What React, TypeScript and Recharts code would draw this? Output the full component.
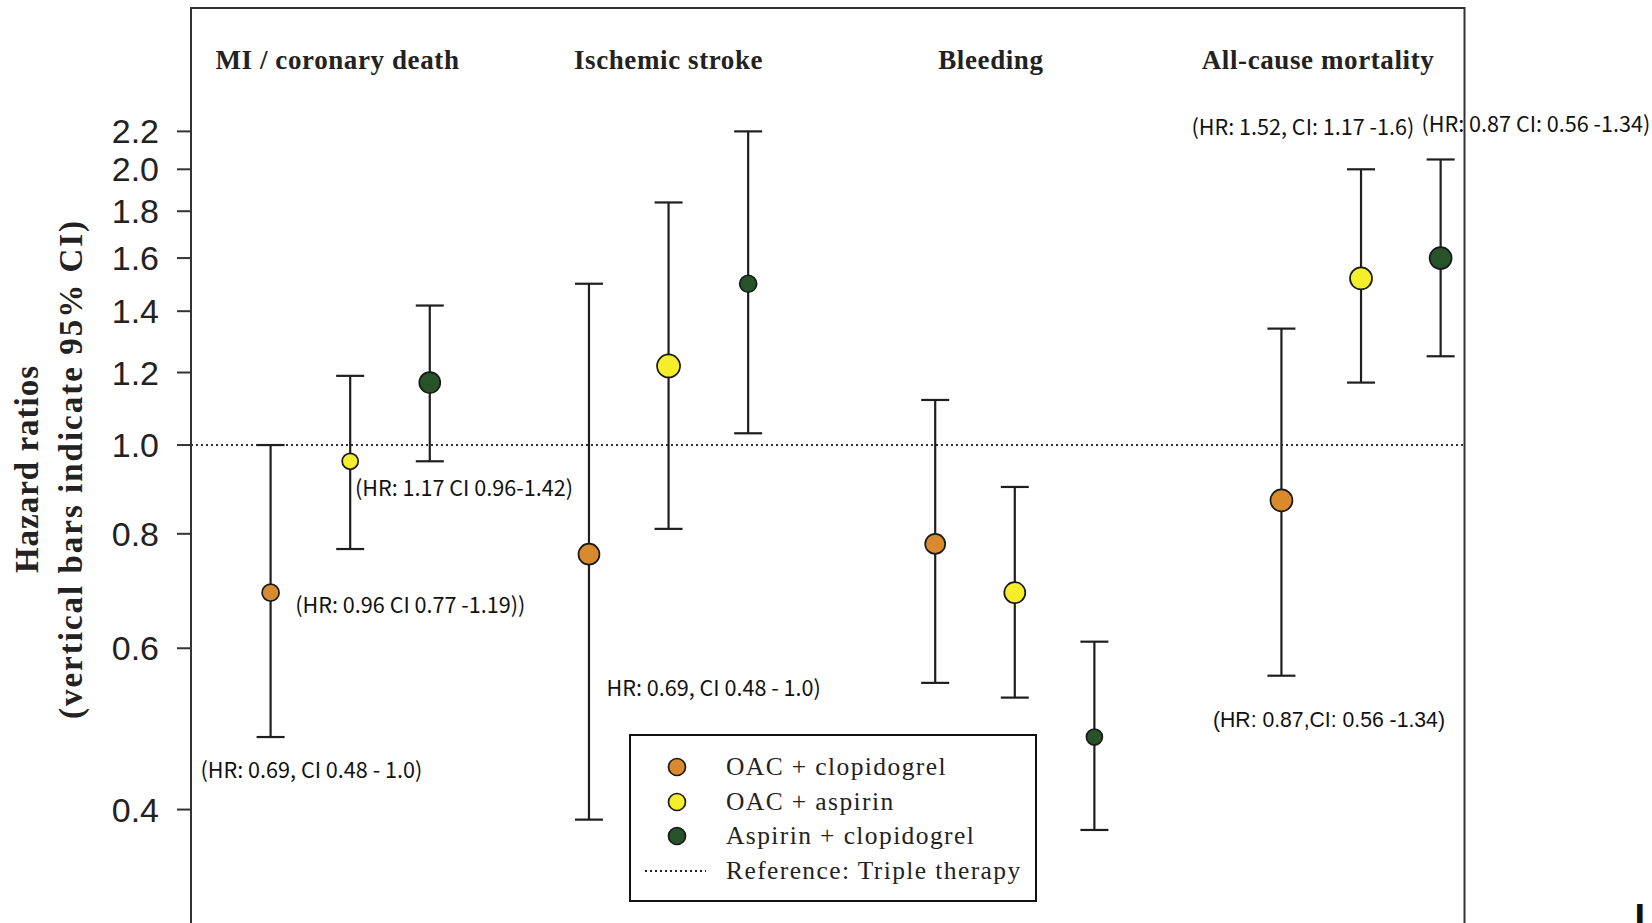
import { ScatterChart, Scatter, XAxis, YAxis, ErrorBar, ReferenceLine, ReferenceArea, Legend } from "recharts";

const outcomes = ["MI / coronary death", "Ischemic stroke", "Bleeding", "All-cause mortality"];
const regimens = ["OAC + clopidogrel", "OAC + aspirin", "Aspirin + clopidogrel"];

// hazard ratios with 95% CI bounds, one triple of arrays per regimen (order follows outcomes)
const oacClopHR = [0.69, 0.76, 0.78, 0.87];
const oacClopLo = [0.48, 0.39, 0.55, 0.56];
const oacClopHi = [1.0, 1.5, 1.12, 1.34];

const oacAspHR = [0.96, 1.22, 0.69, 1.52];
const oacAspLo = [0.77, 0.81, 0.53, 1.17];
const oacAspHi = [1.19, 1.84, 0.9, 2.0];

const aspClopHR = [1.17, 1.5, 0.48, 1.6];
const aspClopLo = [0.96, 1.03, 0.38, 1.25];
const aspClopHi = [1.42, 2.2, 0.61, 2.05];

const yTicks = [0.4, 0.6, 0.8, 1.0, 1.2, 1.4, 1.6, 1.8, 2.0, 2.2];

// layout: x slots on a 0..16 axis, one slot per regimen inside each outcome group
const groupSlot = [2, 6, 10.35, 14.7];
const regimenOffset = [-1, 0, 1];
const titleSlot = [1.84, 6.0, 10.05, 14.16];
const titleLevel = 2.63;
const dotRadius = [
  [8.5, 10.5, 10, 11],
  [8, 11.5, 10.5, 11],
  [10.5, 8.5, 8, 11],
];
const colors = ["#D98A2F", "#F5EF2B", "#28522A"];

const serif = "'Liberation Serif', 'Times New Roman', serif";
const krSans = "'Noto Sans CJK KR', 'Noto Sans', sans-serif";
const arial = "'Liberation Sans', Arial, sans-serif";

// free-floating HR annotations, anchored in data coordinates (slot, hazard ratio)
const notes = [
  { text: "(HR: 1.17 CI 0.96-1.42)", x: 2.06, y: 0.902, font: krSans },
  { text: "(HR: 0.96 CI 0.77 -1.19))", x: 1.31, y: 0.672, font: krSans },
  { text: "(HR: 0.69, CI 0.48 - 1.0)", x: 0.12, y: 0.444, font: krSans },
  { text: "HR: 0.69, CI 0.48 - 1.0)", x: 5.22, y: 0.545, font: krSans },
  { text: "(HR: 0.87,CI: 0.56 -1.34)", x: 12.84, y: 0.501, font: arial },
  { text: "(HR: 1.52, CI: 1.17 -1.6)", x: 12.57, y: 2.23, font: krSans },
  { text: "(HR: 0.87 CI: 0.56 -1.34)", x: 15.46, y: 2.247, font: krSans },
];

const seriesValues = [
  [oacClopHR, oacClopLo, oacClopHi],
  [oacAspHR, oacAspLo, oacAspHi],
  [aspClopHR, aspClopLo, aspClopHi],
];

const seriesData = seriesValues.map(([hr, lo, hi], s) =>
  outcomes.map((name, i) => ({
    outcome: name,
    x: groupSlot[i] + regimenOffset[s],
    y: hr[i],
    err: [hr[i] - lo[i], hi[i] - hr[i]],
    r: dotRadius[s][i],
  }))
);

const titleData = outcomes.map((name, i) => ({ x: titleSlot[i], y: titleLevel, text: name }));

const Dot = (props: any) => {
  const { cx, cy, payload, fill } = props;
  return <circle cx={cx} cy={cy} r={payload.r} fill={fill} stroke="#1a1a1a" strokeWidth={1.7} />;
};

const NoteText = (props: any) => {
  const { cx, cy, payload } = props;
  return (
    <text x={cx} y={cy} fontFamily={payload.font} fontSize={payload.font === arial ? 21.2 : 21.6} fill="#111" dominantBaseline="central">
      {payload.text}
    </text>
  );
};

const TitleText = (props: any) => {
  const { cx, cy, payload } = props;
  return (
    <text x={cx} y={cy} textAnchor="middle" dominantBaseline="central" fontFamily={serif} fontWeight="bold" fontSize={27} letterSpacing={0.6} fill="#222">
      {payload.text}
    </text>
  );
};

const AxisTitle = (props: any) => {
  const vb = props.viewBox;
  const cy = vb.y + vb.height / 2 + 3;
  return (
    <g fontFamily={serif} fontWeight="bold" fontSize={33} fill="#222">
      <text x={27} y={cy} transform={`rotate(-90 27 ${cy})`} textAnchor="middle" dominantBaseline="central" letterSpacing={1}>
        Hazard ratios
      </text>
      <text x={71} y={cy} transform={`rotate(-90 71 ${cy})`} textAnchor="middle" dominantBaseline="central" letterSpacing={2}>
        (vertical bars indicate 95% CI)
      </text>
    </g>
  );
};

const LegendBox = ({ payload }: any) => {
  const entries = payload || [];
  const rows = regimens
    .map((name) => entries.find((p: any) => p.value === name))
    .filter(Boolean)
    .map((p: any) => ({ label: p.value, color: p.color }));
  const rowStyle = (i: number): React.CSSProperties => ({
    position: "absolute",
    left: 0,
    top: 14 + i * 34.5,
    height: 34,
    width: "100%",
    display: "flex",
    alignItems: "center",
  });
  return (
    <div
      style={{
        position: "relative",
        width: 408,
        height: 168,
        boxSizing: "border-box",
        border: "2.5px solid #111",
        background: "#fff",
        fontFamily: serif,
        fontSize: 25.5,
        letterSpacing: 1.4,
        color: "#222",
      }}
    >
      {rows.map((row: any, i: number) => (
        <div key={row.label} style={rowStyle(i)}>
          <svg width={22} height={22} style={{ position: "absolute", left: 35 }}>
            <circle cx={11} cy={11} r={8.5} fill={row.color} stroke="#1a1a1a" strokeWidth={1.7} />
          </svg>
          <span style={{ position: "absolute", left: 95 }}>{row.label}</span>
        </div>
      ))}
      <div style={rowStyle(rows.length)}>
        <svg width={64} height={6} style={{ position: "absolute", left: 13 }}>
          <line x1={1} y1={3} x2={62} y2={3} stroke="#222" strokeWidth={2} strokeDasharray="2 3" />
        </svg>
        <span style={{ position: "absolute", left: 95 }}>Reference: Triple therapy</span>
      </div>
    </div>
  );
};

const App = () => {
  return (
    <div style={{ position: "absolute", left: 0, top: 0, width: 1652, height: 923, overflow: "hidden", background: "#fff" }}>
      <ScatterChart width={1652} height={926} margin={{ top: 8, right: 187.5, bottom: 2, left: 0 }}>
        <XAxis type="number" dataKey="x" domain={[0, 16]} hide />
        <YAxis
          type="number"
          dataKey="y"
          scale="log"
          domain={[0.3, 3]}
          ticks={yTicks}
          interval={0}
          width={191}
          axisLine={false}
          tickSize={14}
          tickMargin={18}
          tickLine={{ stroke: "#333", strokeWidth: 2 }}
          tick={{ fill: "#222", fontSize: 34, fontFamily: arial }}
          tickFormatter={(v: number) => v.toFixed(1)}
          label={{ content: AxisTitle }}
        />
        <ReferenceArea x1={0} x2={16} y1={0.3} y2={3} fill="none" stroke="#333" strokeWidth={2} ifOverflow="visible" />
        <ReferenceLine y={1} stroke="#333" strokeWidth={2} strokeDasharray="2 3" />
        {seriesData.map((data, s) => (
          <Scatter
            key={regimens[s]}
            name={regimens[s]}
            data={data}
            fill={colors[s]}
            shape={Dot}
            isAnimationActive={false}
          >
            <ErrorBar dataKey="err" direction="y" width={14} stroke="#1e1e1e" strokeWidth={2.2} />
          </Scatter>
        ))}
        <Scatter name="titles" data={titleData} shape={TitleText} legendType="none" isAnimationActive={false} />
        <Scatter name="notes" data={notes} shape={NoteText} legendType="none" isAnimationActive={false} />
        <Legend
          layout="vertical"
          align="center"
          verticalAlign="middle"
          content={LegendBox}
          wrapperStyle={{ left: 629, top: 734, width: 408, height: 168 }}
        />
      </ScatterChart>
      <svg width={22} height={28} style={{ position: "absolute", left: 1630, top: 895 }}>
        <text x={4.6} y={36} fontFamily={arial} fontWeight="bold" fontSize={38} fill="#111">
          I
        </text>
      </svg>
    </div>
  );
};

export default App;
